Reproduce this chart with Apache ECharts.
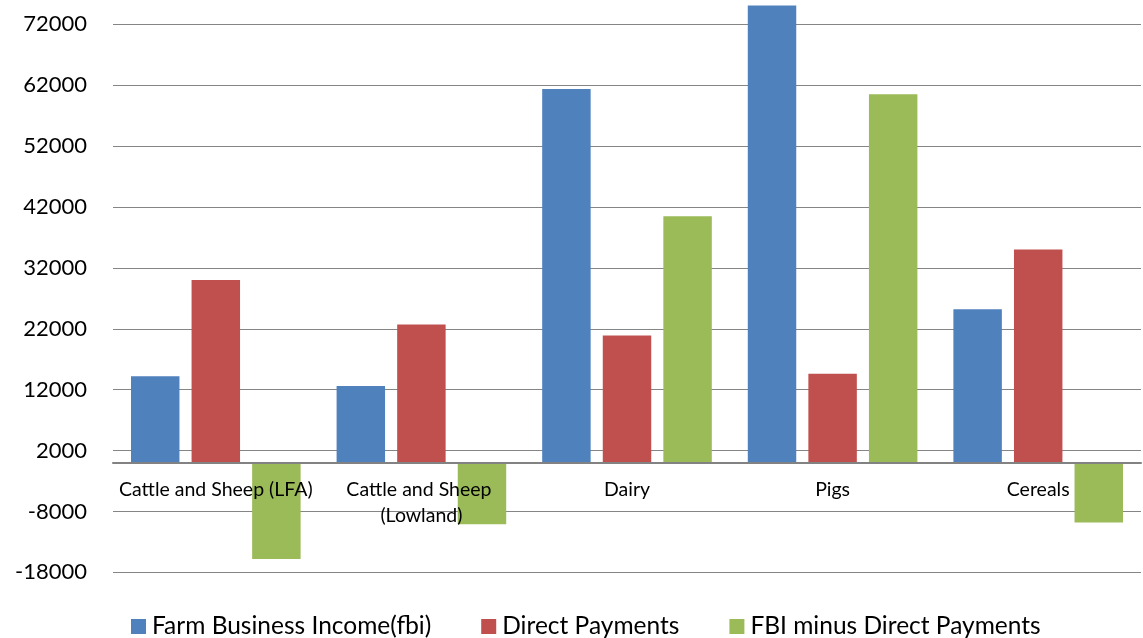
<!DOCTYPE html>
<html>
<head>
<meta charset="utf-8">
<script src="https://cdn.jsdelivr.net/npm/echarts@6/dist/echarts.min.js"></script>
<style>
html,body{margin:0;padding:0;background:#fff;}
#chart{width:1143px;height:638px;}
</style>
</head>
<body>
<div id="chart"></div>
<script>
var categories = ['Cattle and Sheep (LFA)', 'Cattle and Sheep (Lowland)', 'Dairy', 'Pigs', 'Cereals'];
var seriesNames = ['Farm Business Income(fbi)', 'Direct Payments', 'FBI minus Direct Payments'];
var fbi = [14200, 12600, 61400, 75100, 25200];
var directPayments = [30000, 22700, 20900, 14600, 35000];
var fbiMinusDP = [-15800, -10100, 40500, 60500, -9800];
var yMin = -18000, yMax = 76000, yInterval = 10000;

var colors = ['#4F81BD', '#C0504D', '#9BBB59'];
var FONT = 'Lato';

var gridTop = 0, gridBottom = 65.7, H = 638;
var plotH = H - gridTop - gridBottom;
// distance from grid bottom (yMin) up to zero line
var zeroOffset = plotH * (0 - yMin) / (yMax - yMin);

var chart = echarts.init(document.getElementById('chart'), null, {renderer: 'canvas'});
chart.setOption({
  animation: false,
  backgroundColor: '#ffffff',
  color: colors,
  grid: {left: 113, right: 0, top: gridTop, bottom: gridBottom, containLabel: false},
  legend: {
    left: 126, top: 609,
    itemWidth: 15, itemHeight: 15, itemGap: 50,
    icon: 'rect',
    textStyle: {fontFamily: FONT, fontSize: 24.5, color: '#000', padding: [0, 0, 0, 1]},
    data: seriesNames
  },
  xAxis: {
    type: 'category',
    data: categories,
    z: 10,
    position: 'bottom',
    offset: -zeroOffset,
    axisLine: {onZero: false, lineStyle: {color: '#828282', width: 2}},
    axisTick: {show: false},
    axisLabel: {
      interval: 0, margin: 14,
      fontFamily: FONT, fontSize: 19.5, color: '#000',
      lineHeight: 26,
      width: 204, overflow: 'break'
    },
    splitLine: {show: false}
  },
  yAxis: {
    type: 'value',
    min: yMin, max: yMax, interval: yInterval,
    axisLine: {show: false},
    axisTick: {show: false},
    axisLabel: {fontFamily: FONT, fontSize: 22, color: '#000', margin: 26,
      showMaxLabel: false,
      formatter: function (v) { return String(v); }},
    splitLine: {showMaxLine: false, lineStyle: {color: '#858585', width: 1.2}}
  },
  series: [
    {name: seriesNames[0], type: 'bar', data: fbi, barGap: '25%', barCategoryGap: '17.5%'},
    {name: seriesNames[1], type: 'bar', data: directPayments, barGap: '25%', barCategoryGap: '17.5%'},
    {name: seriesNames[2], type: 'bar', data: fbiMinusDP, barGap: '25%', barCategoryGap: '17.5%'}
  ]
});
</script>
</body>
</html>
